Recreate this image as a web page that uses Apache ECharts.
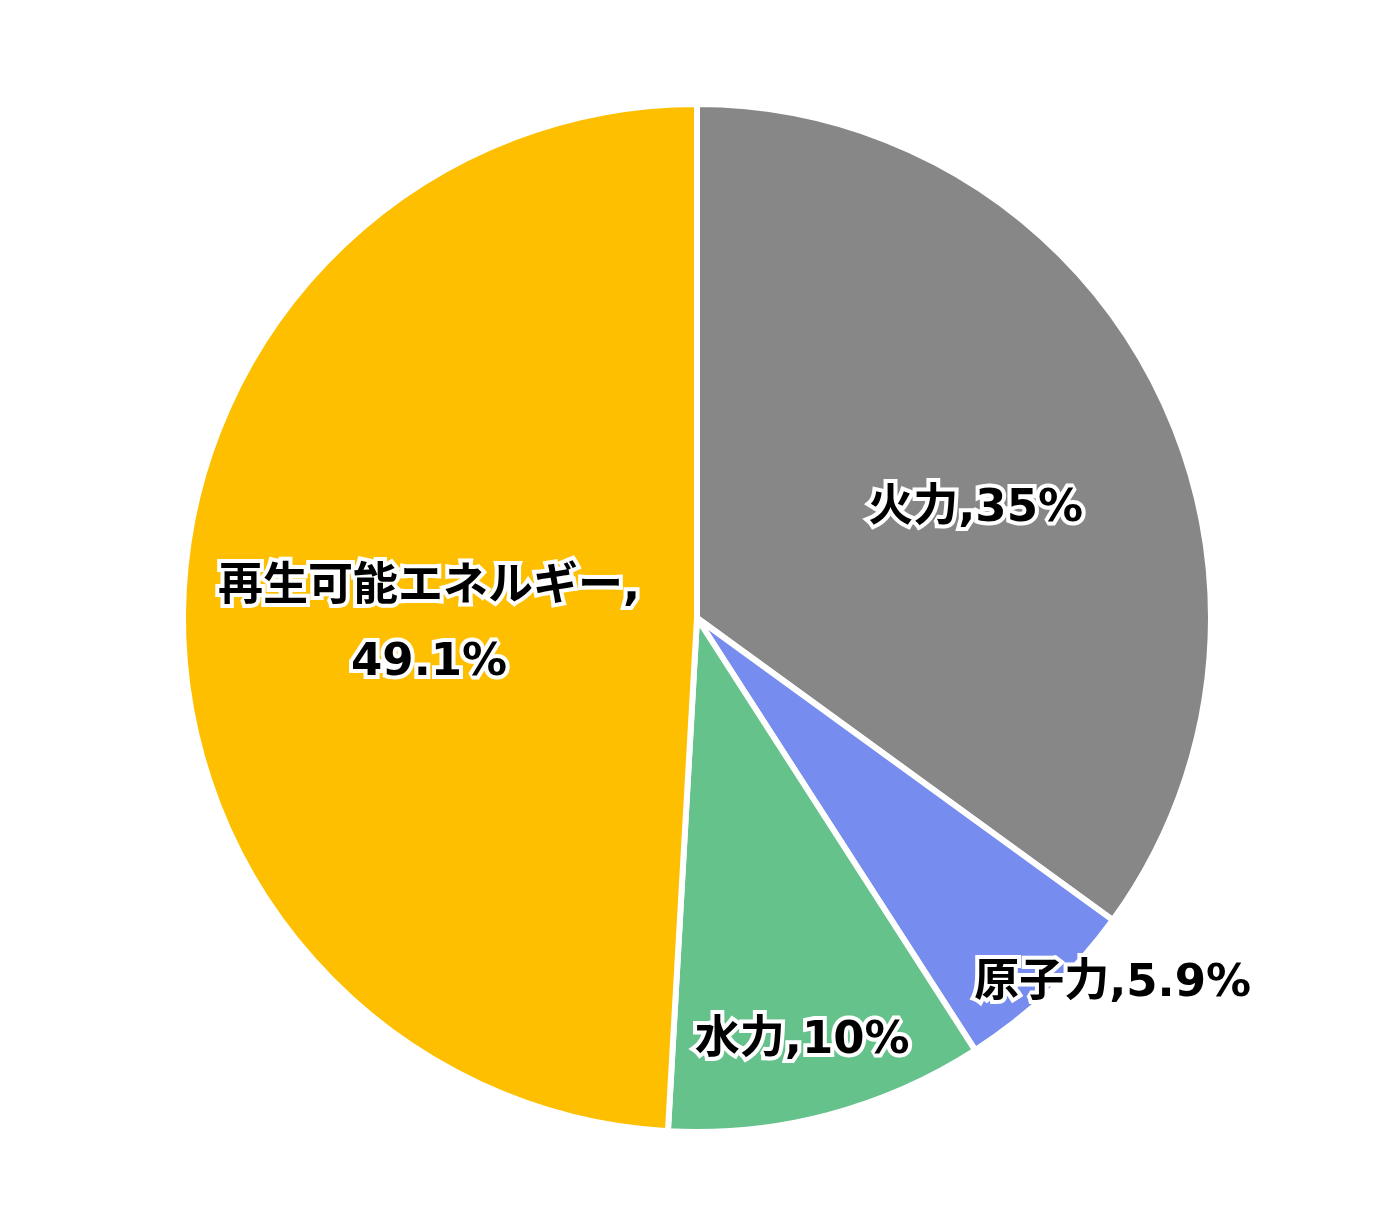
<!DOCTYPE html>
<html>
<head>
<meta charset="utf-8">
<script src="https://cdn.jsdelivr.net/npm/echarts@6/dist/echarts.min.js"></script>
<style>
  html, body { margin: 0; padding: 0; background: #fff; }
  #chart { width: 1394px; height: 1214px; }
</style>
</head>
<body>
<div id="chart"></div>
<script>
// 発電の内訳 (%)
var sources = ['火力', '原子力', '水力', '再生可能エネルギー']
var shares = [35, 5.9, 10, 49.1]
var colors = ['#878787', '#768CEF', '#66C28B', '#FDBF00']

// ラベル位置の微調整
var labelNudge = [[47, 9], [237, 177], [39, 172], [-8, 15]]

var chart = echarts.init(document.getElementById('chart'))

var option = {
  animation: false,
  color: colors,
  series: [
    {
      type: 'pie',
      center: ['50%', 618],
      radius: 514,
      startAngle: 90,
      clockwise: true,
      data: sources.map(function (name, i) {
        return { name: name, value: shares[i] }
      }),
      itemStyle: {
        borderColor: '#fff',
        borderWidth: 6
      },
      label: {
        position: 'inside',
        formatter: function (p) {
          var sep = p.name.length > 4 ? ',\n' : ','
          return p.name + sep + p.value + '%'
        },
        color: '#000',
        fontFamily: '"DejaVu Sans", "Noto Sans CJK JP", sans-serif',
        fontWeight: 'bold',
        fontSize: 45,
        lineHeight: 75,
        textBorderColor: '#fff',
        textBorderWidth: 8
      },
      labelLine: { show: false },
      labelLayout: function (params) {
        var n = labelNudge[params.dataIndex]
        return { dx: n[0], dy: n[1] }
      }
    }
  ]
}

chart.setOption(option)
</script>
</body>
</html>
